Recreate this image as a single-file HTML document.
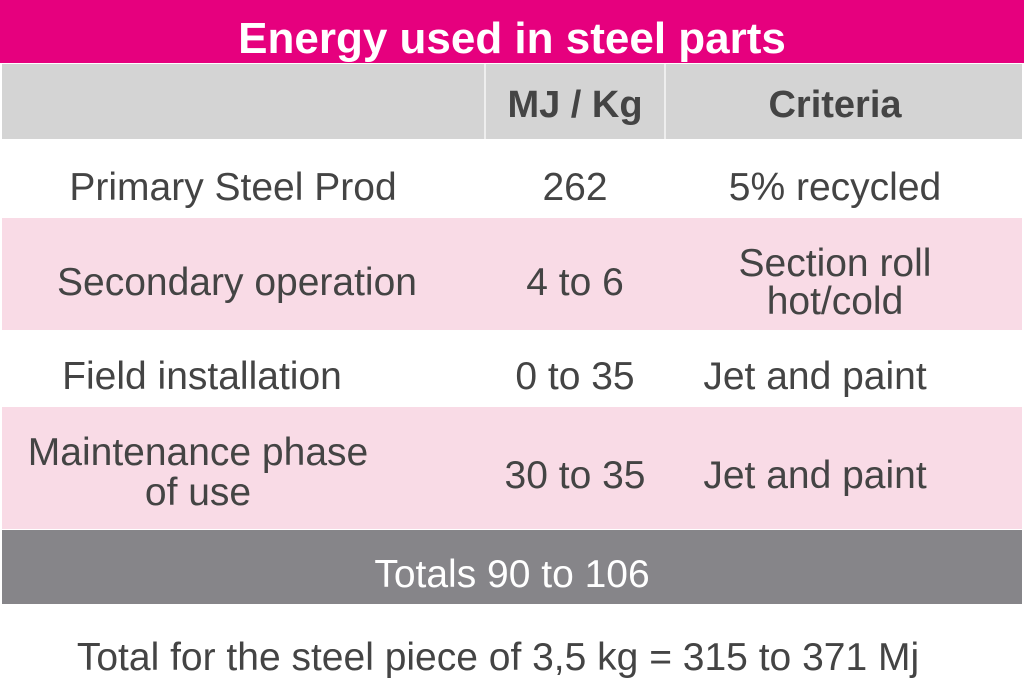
<!DOCTYPE html>
<html><head><style>
body{margin:0;width:1024px;height:692px;background:#fff;position:relative;overflow:hidden;font-family:"Liberation Sans",sans-serif;color:#444;}
.b{position:absolute;}
.t{position:absolute;text-align:center;font-size:39px;line-height:40px;white-space:nowrap;}
</style></head><body>
<div class="b" style="left:0;top:0;width:1024px;height:63px;background:#e6007e"></div>
<div class="t" style="left:0;top:17px;width:1024px;color:#fff;font-weight:bold;font-size:44px;line-height:44px">Energy used in steel parts</div>
<div class="b" style="left:2px;top:64px;width:1020px;height:75px;background:#d4d4d4"></div>
<div class="b" style="left:2px;top:218px;width:1020px;height:112px;background:#f9dbe6"></div>
<div class="b" style="left:2px;top:407px;width:1020px;height:122px;background:#f9dbe6"></div>
<div class="b" style="left:2px;top:530px;width:1020px;height:74px;background:#868589"></div>
<div class="b" style="left:484px;top:64px;width:2px;height:75px;background:#eee"></div>
<div class="b" style="left:664px;top:64px;width:2px;height:75px;background:#eee"></div>
<div class="t" style="left:485px;top:85px;width:180px;font-weight:bold;font-size:38px">MJ / Kg</div>
<div class="t" style="left:665px;top:85px;width:340px;font-weight:bold;font-size:38px">Criteria</div>
<div class="t" style="left:2px;top:168px;width:462px">Primary Steel Prod</div>
<div class="t" style="left:485px;top:168px;width:180px">262</div>
<div class="t" style="left:665px;top:168px;width:340px">5% recycled</div>
<div class="t" style="left:2px;top:263px;width:470px">Secondary operation</div>
<div class="t" style="left:485px;top:263px;width:180px">4 to 6</div>
<div class="t" style="left:665px;top:245px;width:340px;line-height:38px">Section roll<br>hot/cold</div>
<div class="t" style="left:2px;top:357px;width:400px">Field installation</div>
<div class="t" style="left:485px;top:357px;width:180px">0 to 35</div>
<div class="t" style="left:665px;top:357px;width:300px">Jet and paint</div>
<div class="t" style="left:2px;top:433px;width:392px;line-height:40px">Maintenance phase<br>of use</div>
<div class="t" style="left:485px;top:456px;width:180px">30 to 35</div>
<div class="t" style="left:665px;top:456px;width:300px">Jet and paint</div>
<div class="t" style="left:0;top:555px;width:1024px;color:#fff">Totals 90 to 106</div>
<div class="t" style="left:-14px;top:638px;width:1024px">Total for the steel piece of 3,5 kg = 315 to 371 Mj</div>
</body></html>
